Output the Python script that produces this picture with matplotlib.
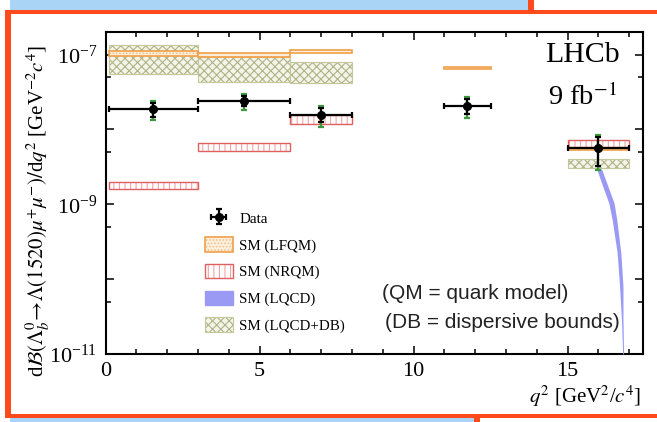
import numpy as np
import matplotlib.pyplot as plt
from matplotlib.patches import Rectangle, Patch
from matplotlib.ticker import FixedLocator, NullFormatter, LogFormatterMathtext, MultipleLocator

plt.rcParams['font.family'] = ['Liberation Serif', 'DejaVu Serif']
plt.rcParams['mathtext.fontset'] = 'stix'
plt.rcParams['hatch.linewidth'] = 0.8

# q2 bins [GeV^2/c^4]
bin_lo = [0.1, 3.0, 6.0, 11.0, 15.0]
bin_hi = [3.0, 6.0, 8.0, 12.5, 17.0]

# LHCb data
data_q2 = [1.55, 4.5, 7.0, 11.75, 16.0]
data_val = [1.85e-8, 2.4e-8, 1.58e-8, 2.03e-8, 5.7e-9]
stat_hi = [2.23e-8, 2.79e-8, 1.96e-8, 2.52e-8, 7.8e-9]
stat_lo = [1.45e-8, 2.04e-8, 1.26e-8, 1.63e-8, 3.24e-9]
tot_hi = [2.40e-8, 3.0e-8, 2.05e-8, 2.7e-8, 8.4e-9]
tot_lo = [1.33e-8, 1.8e-8, 1.09e-8, 1.4e-8, 2.9e-9]

# SM (LFQM)
lfqm_bins = [0, 1, 2, 3, 4]
lfqm_lo = [9.7e-8, 9.4e-8, 1.04e-7, 6.4e-8, 5.3e-9]
lfqm_hi = [1.13e-7, 1.05e-7, 1.15e-7, 6.9e-8, 5.6e-9]

# SM (NRQM)
nrqm_bins = [0, 1, 2, 4]
nrqm_lo = [1.58e-9, 5.18e-9, 1.17e-8, 5.75e-9]
nrqm_hi = [2.0e-9, 6.6e-9, 1.55e-8, 7.18e-9]

# SM (LQCD+DB)
db_bins = [0, 1, 2, 4]
db_lo = [5.42e-8, 4.28e-8, 4.2e-8, 3.08e-9]
db_hi = [1.35e-7, 9.4e-8, 8.07e-8, 4.0e-9]

# SM (LQCD) band near the endpoint
lqcd_val = [3.0e-9, 2.86e-9, 1.70e-9, 1.04e-9, 6.2e-10, 2.26e-10, 8.0e-11, 2.9e-11, 1.0e-11]
lqcd_q2_lo = [15.94, 15.96, 16.15, 16.34, 16.45, 16.61, 16.69, 16.75, 16.79]
lqcd_q2_hi = [16.08, 16.12, 16.32, 16.51, 16.60, 16.73, 16.80, 16.80, 16.82]

W, H = 657, 422
fig = plt.figure(figsize=(W / 100, H / 100), dpi=100)


def px_rect(x0, y0, x1, y1, color):
    fig.patches.append(Rectangle((x0 / W, 1 - y1 / H), (x1 - x0) / W, (y1 - y0) / H,
                                 transform=fig.transFigure, color=color, lw=0, zorder=0))


# screenshot frame
px_rect(10, 0, 528, 10, '#a9d4f5')
px_rect(528, 0, 534, 12, '#ff4a1c')
px_rect(5, 10, W, 14, '#ff4a1c')
px_rect(5, 10, 11, 418, '#ff4a1c')
px_rect(5, 414, W, 418, '#ff4a1c')
px_rect(10, 418, 474, H, '#a9d4f5')
px_rect(474, 418, 480, H, '#ff4a1c')

ax = fig.add_axes([105.5 / W, 1 - 354 / H, (643 - 105.5) / W, (354 - 32) / H])

orange = '#f0a048'
red = '#e06060'
olive = '#c4c69c'
blue = '#9a9af5'

# each band = hatched fill (hatch colour via edgecolor, no outline) + outline
styles = {
    'lfqm': (dict(facecolor='#fdf0df', edgecolor='#f2c088', hatch='.....', lw=0),
             dict(facecolor='none', edgecolor=orange, lw=1.2)),
    'nrqm': (dict(facecolor='white', edgecolor='#f0a4a4', hatch='|||', lw=0),
             dict(facecolor='none', edgecolor=red, lw=1.0)),
    'db': (dict(facecolor='#f4f4ea', edgecolor='#b0b384', hatch='xxxx', lw=0),
           dict(facecolor='none', edgecolor=olive, lw=0.8)),
}


def draw_band(bins, lo, hi, key, z):
    fill, edge = styles[key]
    for i, b in enumerate(bins):
        for st in (fill, edge):
            ax.bar(bin_lo[b], hi[i] - lo[i], bottom=lo[i], width=bin_hi[b] - bin_lo[b],
                   align='edge', zorder=z, **st)


draw_band(db_bins, db_lo, db_hi, 'db', 1)
draw_band(lfqm_bins, lfqm_lo, lfqm_hi, 'lfqm', 2)
draw_band(nrqm_bins, nrqm_lo, nrqm_hi, 'nrqm', 3)

ax.fill_betweenx(lqcd_val, lqcd_q2_lo, lqcd_q2_hi, color=blue, lw=0, zorder=4)

val = np.array(data_val)
ax.errorbar(data_q2, data_val, yerr=[val - np.array(tot_lo), np.array(tot_hi) - val],
            fmt='none', ecolor='#3c9a3c', elinewidth=1.6, capsize=2.5, capthick=1.6, zorder=5)
xerr = [np.array(data_q2) - np.array(bin_lo), np.array(bin_hi) - np.array(data_q2)]
data = ax.errorbar(data_q2, data_val, xerr=xerr, yerr=[val - np.array(stat_lo), np.array(stat_hi) - val],
                   fmt='o', color='black', ms=5.5, elinewidth=1.6, capsize=2.5, capthick=1.6, zorder=6)

ax.set_yscale('log')
ax.set_xlim(0, 17.45)
ax.set_ylim(1e-11, 2e-7)

ax.xaxis.set_major_locator(MultipleLocator(5))
ax.xaxis.set_minor_locator(MultipleLocator(1))
ax.yaxis.set_major_locator(FixedLocator([1e-11, 1e-10, 1e-9, 1e-8, 1e-7]))
ax.yaxis.set_minor_locator(FixedLocator([5e-11, 5e-10, 5e-9, 5e-8]))
fmt = LogFormatterMathtext()
ax.yaxis.set_major_formatter(lambda v, p: fmt(v, p) if round(np.log10(v)) % 2 == 1 else '')
ax.yaxis.set_minor_formatter(NullFormatter())
ax.tick_params(which='both', direction='in', top=True, right=True, width=1.1, labelsize=16)
ax.tick_params(which='major', length=5.5, pad=6)
ax.tick_params(which='minor', length=3.5)
for s in ax.spines.values():
    s.set_linewidth(1.5)

ax.text(0.957, 0.929, 'LHCb', transform=ax.transAxes, ha='right', va='center', fontsize=21.5)
ax.text(0.952, 0.798, '9 fb$^{-1}$', transform=ax.transAxes, ha='right', va='center', fontsize=20.5)

ax.text(0.514, 0.189, '(QM = quark model)', transform=ax.transAxes, ha='left', va='center',
        fontsize=15, family='Liberation Sans', color='#222222')
ax.text(0.520, 0.099, '(DB = dispersive bounds)', transform=ax.transAxes, ha='left', va='center',
        fontsize=15, family='Liberation Sans', color='#222222')

handles = [data,
           tuple(Patch(**s) for s in styles['lfqm']),
           tuple(Patch(**s) for s in styles['nrqm']),
           Patch(facecolor=blue, edgecolor=blue),
           tuple(Patch(**s) for s in styles['db'])]
labels = ['Data', 'SM (LFQM)', 'SM (NRQM)', 'SM (LQCD)', 'SM (LQCD+DB)']
ax.legend(handles, labels, loc='upper left', bbox_to_anchor=(0.185, 0.445), frameon=False,
          fontsize=10.8, borderpad=0, borderaxespad=0, handlelength=1.85, handleheight=1.1,
          labelspacing=0.75, handletextpad=0.45)

fig.text(641 / W, 1 - 396 / H, r'$q^2$ [GeV$^2$/$c^4$]', ha='right', va='center', fontsize=15)
fig.text(38 / W, 1 - 211 / H,
         r'd$\mathcal{B}(\Lambda_b^0\!\rightarrow\!\Lambda(1520)\mu^{+}\mu^{-})/$d$q^2$ [GeV$^{-2}c^4$]',
         rotation=90, ha='center', va='center', fontsize=15)

fig.savefig('out.png', dpi=100)
